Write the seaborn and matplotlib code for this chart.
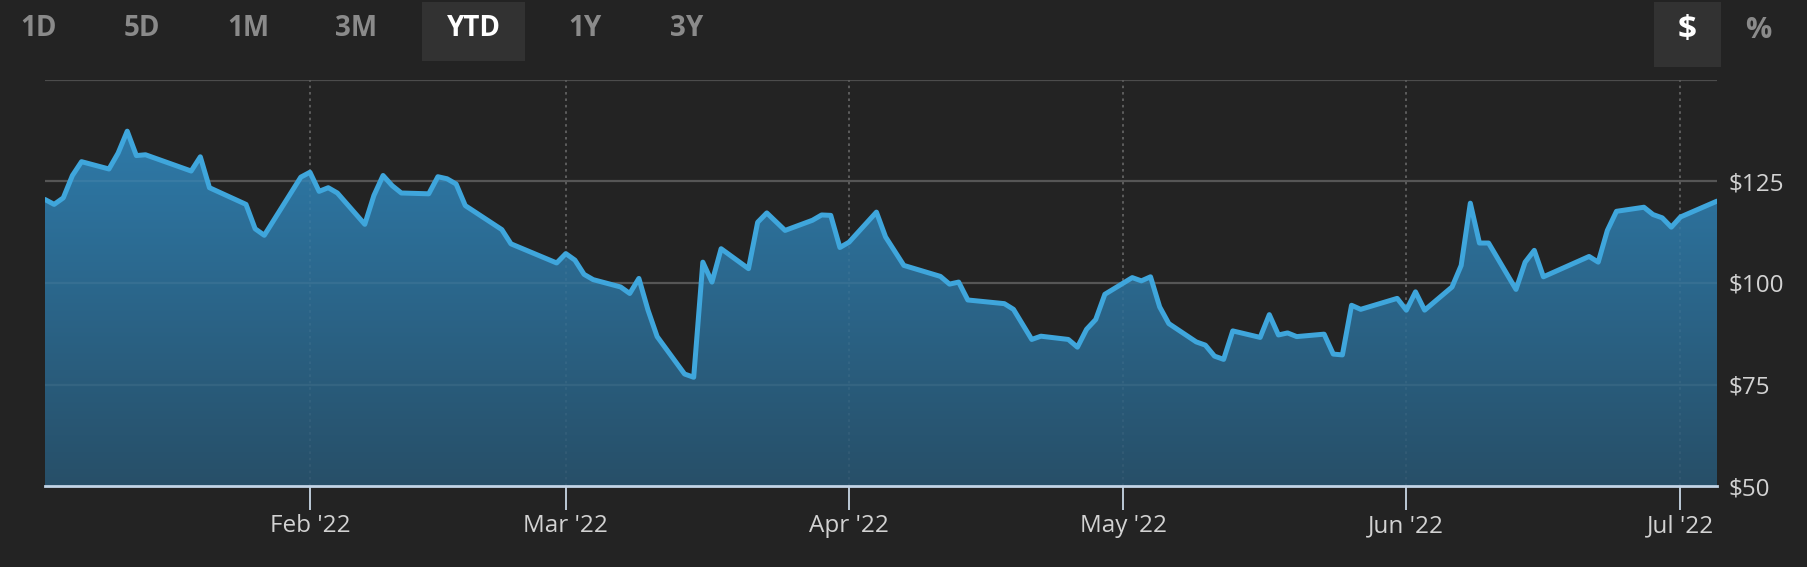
import matplotlib
matplotlib.use("Agg")
import numpy as np
import pandas as pd
import matplotlib.pyplot as plt
import matplotlib.dates as mdates
from matplotlib.colors import LinearSegmentedColormap
from matplotlib.patches import Rectangle
import seaborn as sns

# Datos (cierres YTD 2022)
fechas = [
    "2022-01-03", "2022-01-04", "2022-01-05", "2022-01-06", "2022-01-07",
    "2022-01-10", "2022-01-11", "2022-01-12", "2022-01-13", "2022-01-14",
    "2022-01-19", "2022-01-20", "2022-01-21", "2022-01-25", "2022-01-26",
    "2022-01-27", "2022-01-31", "2022-02-01", "2022-02-02", "2022-02-03",
    "2022-02-04", "2022-02-07", "2022-02-08", "2022-02-09", "2022-02-10",
    "2022-02-11", "2022-02-14", "2022-02-15", "2022-02-16", "2022-02-17",
    "2022-02-18", "2022-02-22", "2022-02-23", "2022-02-28", "2022-03-01",
    "2022-03-02", "2022-03-03", "2022-03-04", "2022-03-07", "2022-03-08",
    "2022-03-09", "2022-03-10", "2022-03-11", "2022-03-14", "2022-03-15",
    "2022-03-16", "2022-03-17", "2022-03-18", "2022-03-21", "2022-03-22",
    "2022-03-23", "2022-03-25", "2022-03-28", "2022-03-29", "2022-03-30",
    "2022-03-31", "2022-04-01", "2022-04-04", "2022-04-05", "2022-04-07",
    "2022-04-11", "2022-04-12", "2022-04-13", "2022-04-14", "2022-04-18",
    "2022-04-19", "2022-04-21", "2022-04-22", "2022-04-25", "2022-04-26",
    "2022-04-27", "2022-04-28", "2022-04-29", "2022-05-02", "2022-05-03",
    "2022-05-04", "2022-05-05", "2022-05-06", "2022-05-09", "2022-05-10",
    "2022-05-11", "2022-05-12", "2022-05-13", "2022-05-16", "2022-05-17",
    "2022-05-18", "2022-05-19", "2022-05-20", "2022-05-23", "2022-05-24",
    "2022-05-25", "2022-05-26", "2022-05-27", "2022-05-31", "2022-06-01",
    "2022-06-02", "2022-06-03", "2022-06-06", "2022-06-07", "2022-06-08",
    "2022-06-09", "2022-06-10", "2022-06-13", "2022-06-14", "2022-06-15",
    "2022-06-16", "2022-06-21", "2022-06-22", "2022-06-23", "2022-06-24",
    "2022-06-27", "2022-06-28", "2022-06-29", "2022-06-30", "2022-07-01",
    "2022-07-05",
]
precios = [
    120.5, 119.3, 120.9, 126.4, 129.8,
    128.0, 131.9, 137.3, 131.3, 131.5,
    127.5, 131.0, 123.4, 119.3, 113.3,
    111.7, 126.0, 127.2, 122.5, 123.4,
    122.1, 114.4, 121.5, 126.4, 123.9,
    122.1, 121.9, 126.1, 125.6, 124.3,
    119.0, 113.1, 109.6, 104.9, 107.2,
    105.6, 102.1, 100.8, 99.0, 97.4,
    101.1, 93.3, 86.8, 77.6, 76.8,
    105.1, 100.2, 108.4, 103.5, 114.9,
    117.2, 112.9, 115.4, 116.7, 116.6,
    108.7, 110.0, 117.4, 111.3, 104.3,
    101.6, 99.7, 100.2, 95.8, 94.9,
    93.5, 86.1, 86.9, 86.1, 84.2,
    88.6, 91.0, 97.2, 101.3, 100.5,
    101.5, 94.1, 90.0, 85.5, 84.7,
    82.0, 81.2, 88.2, 86.6, 92.2,
    87.2, 87.7, 86.8, 87.4, 82.5,
    82.3, 94.5, 93.5, 96.2, 93.3,
    97.8, 93.3, 99.0, 104.3, 119.6,
    109.8, 109.8, 98.4, 105.1, 108.0,
    101.5, 106.5, 105.1, 112.9, 117.6,
    118.6, 116.8, 116.0, 113.7, 116.2,
    120.1,
]
botones = ["1D", "5D", "1M", "3M", "YTD", "1Y", "3Y"]
boton_activo = "YTD"
y_ticks = [50, 75, 100, 125]
y_etiquetas = ["$50", "$75", "$100", "$125"]
meses = ["2022-02-01", "2022-03-01", "2022-04-01", "2022-05-01", "2022-06-01", "2022-07-01"]

df = pd.DataFrame({"fecha": pd.to_datetime(fechas), "precio": precios})

FONDO = "#232323"
LINEA = "#3fa6dc"
GRID = "#4c4c4c"

sns.set_style("dark")
plt.rcParams['font.family'] = ['Open Sans', 'DejaVu Sans']

fig = plt.figure(figsize=(18.07, 5.67), dpi=100, facecolor=FONDO)
ax = fig.add_axes([45 / 1807, 80.7 / 567, 1672 / 1807, 406.8 / 567])
ax.set_facecolor(FONDO)

x0 = mdates.date2num(df.fecha.iloc[0])
x1 = mdates.date2num(df.fecha.iloc[-1])

# Lineas de referencia (debajo del relleno)
for v in [75, 100, 125, 150]:
    ax.axhline(v, color=GRID, lw=1.6, zorder=0.5)
for m in meses:
    ax.axvline(pd.Timestamp(m), color="#555555", lw=1.4, ls=(0, (1.3, 2)), zorder=0.5)

# Relleno con degradado recortado bajo la curva
relleno = ax.fill_between(df.fecha, df.precio, 50, color="none", linewidth=0)
cmap = LinearSegmentedColormap.from_list("grad", ["#274f68", "#2f80b2"])
grad = np.linspace(1, 0, 256).reshape(-1, 1)
im = ax.imshow(grad, cmap=cmap, extent=[x0, x1, 50, 150], aspect="auto",
               origin="upper", zorder=1)
im.set_clip_path(relleno.get_paths()[0], transform=ax.transData)

# Rastro tenue de la rejilla sobre el relleno
for v in [75, 100, 125]:
    ax.axhline(v, color="white", alpha=0.06, lw=1.6, zorder=2)
for m in meses:
    ax.axvline(pd.Timestamp(m), color="white", alpha=0.05, lw=1.4, ls=(0, (1.3, 2)), zorder=2)

sns.lineplot(data=df, x="fecha", y="precio", ax=ax, color=LINEA, linewidth=3.6,
             zorder=3, solid_joinstyle="round", solid_capstyle="round")

ax.set_xlim(x0, x1)
ax.set_ylim(50, 150)
ax.set_xlabel("")
ax.set_ylabel("")
ax.grid(False)

ax.set_xticks([pd.Timestamp(m) for m in meses])
ax.xaxis.set_major_formatter(mdates.DateFormatter("%b '%y"))
ax.tick_params(axis="x", direction="out", length=17, width=1.3, color="#c8d6e4",
               labelsize=17.5, labelcolor="#d2d2d2", pad=3, bottom=True)

ax.yaxis.tick_right()
ax.set_yticks(y_ticks)
ax.set_yticklabels(y_etiquetas)
ax.tick_params(axis="y", length=0, labelsize=17.5, labelcolor="#d2d2d2", pad=8, right=False)

for lado in ["top", "left", "right"]:
    ax.spines[lado].set_visible(False)
ax.spines["bottom"].set_color("#c2d4e6")
ax.spines["bottom"].set_linewidth(2)
ax.spines["bottom"].set_zorder(4)

# Botones de rango
centros = [39, 142, 248, 356, 474, 585, 687]
fig.patches.append(Rectangle((422 / 1807, 1 - 61 / 567), 103 / 1807, 59 / 567,
                             transform=fig.transFigure, facecolor="#323232",
                             edgecolor="none", zorder=0))
for txt, cx in zip(botones, centros):
    fig.text(cx / 1807, 1 - 29 / 567, txt, ha="center", va="center",
             fontsize=20, fontweight="bold",
             color="#ffffff" if txt == boton_activo else "#8a8a8a")

fig.patches.append(Rectangle((1654 / 1807, 1 - 67 / 567), 67 / 1807, 65 / 567,
                             transform=fig.transFigure, facecolor="#323232",
                             edgecolor="none", zorder=0))
fig.text(1687 / 1807, 1 - 31 / 567, "$", ha="center", va="center",
         fontsize=24, fontweight="bold", color="#ffffff")
fig.text(1758 / 1807, 1 - 31 / 567, "%", ha="center", va="center",
         fontsize=21, fontweight="bold", color="#8a8a8a")

fig.savefig("out.png", dpi=100, facecolor=FONDO)
